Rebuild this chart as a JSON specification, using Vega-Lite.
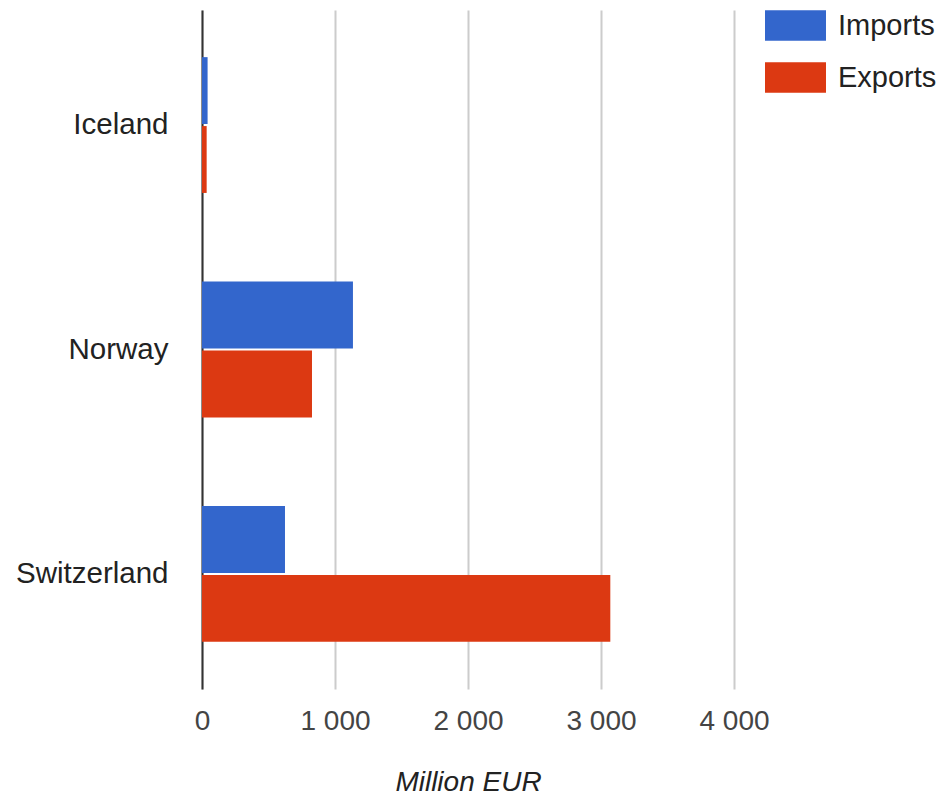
{
  "$schema": "https://vega.github.io/schema/vega-lite/v6.json",
  "autosize": {"type": "none"},
  "padding": {"left": 202, "top": 10, "right": 209, "bottom": 107},
  "width": 532,
  "height": 679,
  "background": "white",
  "data": {
    "values": [
      {"country": "Iceland", "flow": "Imports", "value": 42},
      {"country": "Iceland", "flow": "Exports", "value": 35},
      {"country": "Norway", "flow": "Imports", "value": 1135},
      {"country": "Norway", "flow": "Exports", "value": 827},
      {"country": "Switzerland", "flow": "Imports", "value": 624},
      {"country": "Switzerland", "flow": "Exports", "value": 3070}
    ]
  },
  "mark": {"type": "bar"},
  "encoding": {
    "y": {
      "field": "country",
      "type": "nominal",
      "sort": ["Iceland", "Norway", "Switzerland"],
      "scale": {"paddingInner": 0.395, "paddingOuter": 0.21},
      "axis": {
        "title": null,
        "ticks": false,
        "domain": true,
        "domainColor": "#333333",
        "domainWidth": 2,
        "labelPadding": 34,
        "labelFont": "Liberation Sans",
        "labelFontSize": 29.5,
        "labelColor": "#222222",
        "labelFontWeight": "normal"
      }
    },
    "yOffset": {
      "field": "flow",
      "type": "nominal",
      "sort": ["Imports", "Exports"],
      "scale": {"paddingInner": 0.03}
    },
    "x": {
      "field": "value",
      "type": "quantitative",
      "scale": {"domain": [0, 4000], "nice": false},
      "axis": {
        "title": "Million EUR",
        "values": [0, 1000, 2000, 3000, 4000],
        "labelExpr": "replace(format(datum.value, ','), ',', ' ')",
        "ticks": false,
        "domain": false,
        "grid": true,
        "gridColor": "#cccccc",
        "gridWidth": 2,
        "labelPadding": 18,
        "labelFont": "Liberation Sans",
        "labelFontSize": 28,
        "labelColor": "#444444",
        "labelFlush": false,
        "titleFont": "Liberation Sans",
        "titleFontSize": 28,
        "titleFontStyle": "italic",
        "titleFontWeight": "normal",
        "titleColor": "#222222",
        "titlePadding": 33
      }
    },
    "color": {
      "field": "flow",
      "type": "nominal",
      "scale": {"domain": ["Imports", "Exports"], "range": ["#3366cc", "#dc3912"]},
      "legend": {
        "title": null,
        "orient": "right",
        "offset": 46,
        "padding": 0,
        "symbolType": "M-2,-1H2V1H-2Z",
        "symbolSize": 930,
        "symbolStrokeWidth": 0,
        "symbolOpacity": 1,
        "rowPadding": 21,
        "labelOffset": 27,
        "labelFont": "Liberation Sans",
        "labelFontSize": 29,
        "labelColor": "#222222",
        "labelLimit": 300
      }
    }
  },
  "config": {
    "view": {"stroke": null}
  }
}
